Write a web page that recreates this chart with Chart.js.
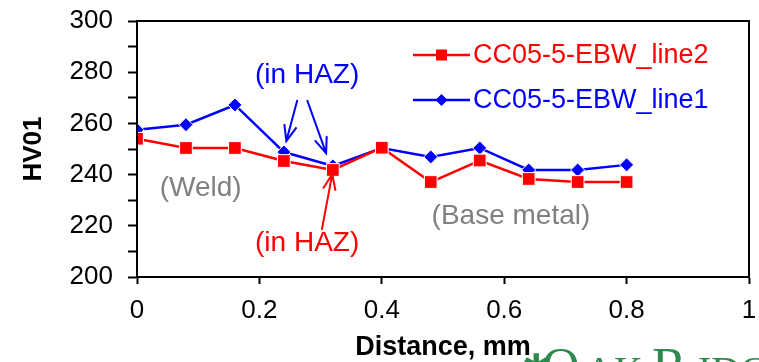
<!DOCTYPE html>
<html><head><meta charset="utf-8">
<script src="https://cdn.jsdelivr.net/npm/chart.js@4"></script>
<style>html,body{margin:0;padding:0;background:#fff;overflow:hidden}#wrap{width:759px;height:362px;position:relative}</style>
</head><body><div id="wrap"><canvas id="c" width="759" height="362"></canvas></div>
<script>
const distances = [0, 0.08, 0.16, 0.24, 0.32, 0.40, 0.48, 0.56, 0.64, 0.72, 0.80];
const line2Values = [254.0, 250.4, 250.4, 245.3, 241.8, 250.5, 237.1, 245.5, 238.3, 237.1, 237.1];
const line1Values = [257.5, 259.5, 267.2, 248.8, 243.4, 250.4, 246.9, 250.4, 241.8, 241.8, 243.8];
const seriesNames = ['CC05-5-EBW_line2', 'CC05-5-EBW_line1'];
const xTickValues = [0, 0.2, 0.4, 0.6, 0.8, 1];
const yTickValues = [200, 210, 220, 230, 240, 250, 260, 270, 280, 290, 300];
const yTickLabels = ['200', '', '220', '', '240', '', '260', '', '280', '', '300'];
const xTitle = 'Distance, mm';
const yTitle = 'HV01';
// annotation texts placed in data coordinates
const noteTexts = ['(in HAZ)', '(in HAZ)', '(Weld)', '(Base metal)'];
const noteX = [0.278, 0.278, 0.104, 0.611];
const noteY = [278.9, 213.3, 234.8, 223.8];
const noteColors = ['#0000ff', '#ff0000', '#808080', '#808080'];
// arrows: from / to in data coordinates
const arrowFromX = [0.262, 0.278, 0.302];
const arrowFromY = [269.1, 269.1, 218.4];
const arrowToX = [0.244, 0.309, 0.319];
const arrowToY = [253.1, 248.4, 240.2];
const arrowColors = ['#0000ff', '#0000ff', '#ff0000'];

const FONT = '"Liberation Sans", Arial, sans-serif';

const toPts = (xs, ys) => xs.map((x, i) => ({ x, y: ys[i] }));

const decorPlugin = {
  id: 'decor',
  beforeDraw(chart) {
    const ctx = chart.ctx;
    ctx.save();
    ctx.fillStyle = '#fff';
    ctx.fillRect(0, 0, chart.width, chart.height);
    // logo text partially visible at bottom right
    ctx.fillStyle = '#2e8a4c';
    ctx.textBaseline = 'alphabetic';
    ctx.textAlign = 'left';
    ctx.font = '34px "DejaVu Sans", sans-serif';
    ctx.fillText('\u2731', 522, 378);
    ctx.font = '52px "Liberation Serif", serif';
    ctx.fillText('O', 542, 384);
    ctx.font = '40px "Liberation Serif", serif';
    ctx.fillText('AK', 585, 384);
    ctx.font = '52px "Liberation Serif", serif';
    ctx.fillText('R', 652, 384);
    ctx.font = '40px "Liberation Serif", serif';
    ctx.fillText('IDGE', 698, 384);
    ctx.restore();
  },
  afterDraw(chart) {
    const ctx = chart.ctx;
    const a = chart.chartArea;
    const xs = chart.scales.x, ys = chart.scales.y;
    ctx.save();
    // frame
    ctx.strokeStyle = '#000';
    ctx.lineWidth = 2;
    ctx.strokeRect(a.left, a.top, a.right - a.left, a.bottom - a.top);
    // annotations
    ctx.font = '28px ' + FONT;
    ctx.textAlign = 'center';
    ctx.textBaseline = 'middle';
    noteTexts.forEach((t, i) => {
      ctx.fillStyle = noteColors[i];
      ctx.fillText(t, xs.getPixelForValue(noteX[i]), ys.getPixelForValue(noteY[i]));
    });
    // arrows
    ctx.lineWidth = 2;
    arrowFromX.forEach((fx, i) => {
      const x1 = xs.getPixelForValue(fx), y1 = ys.getPixelForValue(arrowFromY[i]);
      const x2 = xs.getPixelForValue(arrowToX[i]), y2 = ys.getPixelForValue(arrowToY[i]);
      const ang = Math.atan2(y2 - y1, x2 - x1);
      const L = 17, spread = 0.38;
      ctx.strokeStyle = arrowColors[i];
      ctx.beginPath();
      ctx.moveTo(x1, y1); ctx.lineTo(x2, y2);
      ctx.moveTo(x2 - L * Math.cos(ang - spread), y2 - L * Math.sin(ang - spread));
      ctx.lineTo(x2, y2);
      ctx.lineTo(x2 - L * Math.cos(ang + spread), y2 - L * Math.sin(ang + spread));
      ctx.stroke();
    });
    // legend
    [0, 1].forEach((r) => {
      const ds = chart.data.datasets[r];
      const y = a.top + 34 + r * 45;
      const x0 = a.left + 276;
      ctx.strokeStyle = ds.borderColor;
      ctx.lineWidth = 2.5;
      ctx.beginPath();
      ctx.moveTo(x0, y); ctx.lineTo(x0 + 57, y);
      ctx.stroke();
      ctx.fillStyle = ds.borderColor;
      ctx.beginPath();
      if (ds.pointStyle === 'rect') {
        ctx.rect(x0 + 23, y - 5.5, 11, 11);
      } else {
        ctx.moveTo(x0 + 28.5, y - 6); ctx.lineTo(x0 + 34.5, y); ctx.lineTo(x0 + 28.5, y + 6); ctx.lineTo(x0 + 22.5, y);
        ctx.closePath();
      }
      ctx.fill();
      ctx.font = '27px ' + FONT;
      ctx.textAlign = 'left';
      ctx.textBaseline = 'middle';
      ctx.fillText(ds.label, x0 + 60, y + 1);
    });
    ctx.restore();
  }
};

new Chart(document.getElementById('c'), {
  type: 'line',
  data: {
    datasets: [
      {
        label: seriesNames[0],
        data: toPts(distances, line2Values),
        borderColor: '#ff0000',
        backgroundColor: '#ff0000',
        borderWidth: 2.5,
        pointStyle: 'rect',
        pointRadius: 9,
        pointBorderColor: '#ffffff',
        pointBorderWidth: 1,
        pointBackgroundColor: '#ff0000',
        tension: 0
      },
      {
        label: seriesNames[1],
        data: toPts(distances, line1Values),
        borderColor: '#0000ff',
        backgroundColor: '#0000ff',
        borderWidth: 2.5,
        pointStyle: 'rectRot',
        pointRadius: 7,
        pointBorderColor: '#ffffff',
        pointBorderWidth: 1,
        pointBackgroundColor: '#0000ff',
        tension: 0
      }
    ]
  },
  options: {
    responsive: false,
    animation: false,
    devicePixelRatio: 1,
    layout: { padding: { left: 0, top: 0, bottom: 0, right: -3 } },
    plugins: { legend: { display: false }, tooltip: { enabled: false } },
    scales: {
      x: {
        type: 'linear', min: 0, max: 1,
        afterBuildTicks: s => { s.ticks = xTickValues.map(v => ({ value: v })); },
        afterFit: s => { s.height = 85; s.paddingLeft = 0; s.paddingRight = 0; },
        grid: { drawOnChartArea: false, drawTicks: true, tickLength: 7, tickWidth: 2, tickColor: '#000' },
        border: { display: true, color: '#000', width: 2 },
        ticks: { color: '#000', font: { family: FONT, size: 26 }, padding: 11, maxRotation: 0, autoSkip: false,
          callback: v => String(v) },
        title: { display: true, text: xTitle, color: '#000', font: { family: FONT, size: 27, weight: 'bold' }, padding: { top: 0, bottom: -2 } }
      },
      y: {
        type: 'linear', min: 200, max: 300,
        afterBuildTicks: s => { s.ticks = yTickValues.map(v => ({ value: v })); },
        afterFit: s => { s.width = 137; s.paddingTop = 21; s.paddingBottom = 0; },
        grid: { drawOnChartArea: false, drawTicks: true, tickLength: 9, tickWidth: 2, tickColor: '#000' },
        border: { display: true, color: '#000', width: 2 },
        ticks: { color: '#000', font: { family: FONT, size: 26 }, padding: 15, autoSkip: false,
          callback: (v) => { const i = yTickValues.indexOf(v); return i >= 0 ? yTickLabels[i] : ''; } },
        title: { display: true, text: yTitle, color: '#000', font: { family: FONT, size: 26, weight: 'bold' }, padding: { top: 18, bottom: 0 } }
      }
    }
  },
  plugins: [decorPlugin]
});
</script>
</body></html>
